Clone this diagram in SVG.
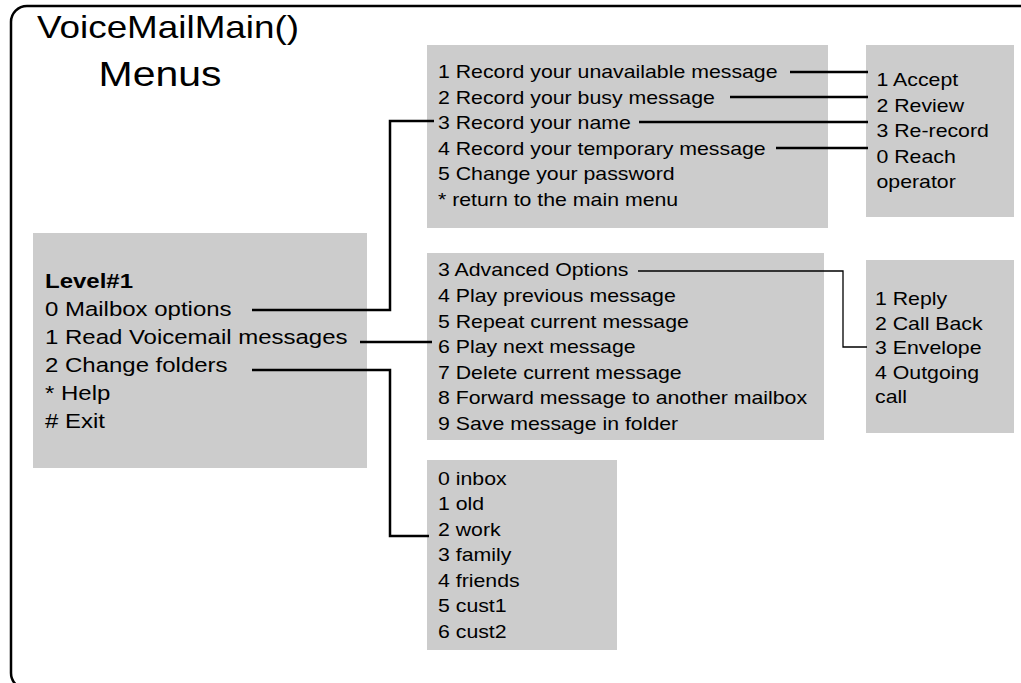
<svg xmlns="http://www.w3.org/2000/svg" width="1021" height="683" viewBox="0 0 1021 683">
<style>
text{font-family:"Liberation Sans",Arial,sans-serif;fill:#000}
.t{font-size:18.2px}
.l{font-size:20.5px}
.title{font-size:31.5px}
.box{fill:#cccccc}
.c{fill:none;stroke:#000;stroke-width:2.5}
.thin{fill:none;stroke:#000;stroke-width:1.3}
</style>
<rect x="11" y="6" width="1040" height="683" rx="16" ry="16" fill="none" stroke="#000" stroke-width="2.5"/>
<g id="title">
<g transform="translate(37,38) scale(1.17,1)"><text class="title" x="0" y="0">VoiceMailMain()</text></g>
<g transform="translate(160,86) scale(1.17,1)"><text class="title" x="0" y="0" text-anchor="middle" style="font-size:35px">Menus</text></g>
</g>
<g id="level1">
<rect class="box" x="33" y="233" width="334" height="235"/>
<g transform="translate(45,0) scale(1.17,1)">
<text class="l" x="0" y="288.5" font-weight="bold">Level#1</text>
<text class="l" x="0" y="316.5">0 Mailbox options</text>
<text class="l" x="0" y="344.5">1 Read Voicemail messages</text>
<text class="l" x="0" y="372.5">2 Change folders</text>
<text class="l" x="0" y="400.5">* Help</text>
<text class="l" x="0" y="428.5"># Exit</text>
</g>
</g>
<g id="mailbox-options">
<rect class="box" x="427" y="45" width="401" height="183"/>
<g transform="translate(438,0) scale(1.17,1)">
<text class="t" x="0" y="78">1 Record your unavailable message</text>
<text class="t" x="0" y="103.6">2 Record your busy message</text>
<text class="t" x="0" y="129.2">3 Record your name</text>
<text class="t" x="0" y="154.8">4 Record your temporary message</text>
<text class="t" x="0" y="180.4">5 Change your password</text>
<text class="t" x="0" y="206">* return to the main menu</text>
</g>
</g>
<g id="record-options">
<rect class="box" x="866" y="45" width="148" height="172"/>
<g transform="translate(876.5,0) scale(1.17,1)">
<text class="t" x="0" y="86.5">1 Accept</text>
<text class="t" x="0" y="112">2 Review</text>
<text class="t" x="0" y="137.5">3 Re-record</text>
<text class="t" x="0" y="163">0 Reach</text>
<text class="t" x="0" y="188.5">operator</text>
</g>
</g>
<g id="read-messages">
<rect class="box" x="427" y="253" width="397" height="187"/>
<g transform="translate(438,0) scale(1.17,1)">
<text class="t" x="0" y="276.5">3 Advanced Options</text>
<text class="t" x="0" y="302.1">4 Play previous message</text>
<text class="t" x="0" y="327.7">5 Repeat current message</text>
<text class="t" x="0" y="353.3">6 Play next message</text>
<text class="t" x="0" y="378.9">7 Delete current message</text>
<text class="t" x="0" y="404.5">8 Forward message to another mailbox</text>
<text class="t" x="0" y="430.1">9 Save message in folder</text>
</g>
</g>
<g id="advanced-options">
<rect class="box" x="866" y="260" width="148" height="173"/>
<g transform="translate(875,0) scale(1.17,1)">
<text class="t" x="0" y="305">1 Reply</text>
<text class="t" x="0" y="329.6">2 Call Back</text>
<text class="t" x="0" y="354.2">3 Envelope</text>
<text class="t" x="0" y="378.8">4 Outgoing</text>
<text class="t" x="0" y="403.4">call</text>
</g>
</g>
<g id="folders">
<rect class="box" x="427" y="460" width="190" height="190"/>
<g transform="translate(438,0) scale(1.17,1)">
<text class="t" x="0" y="485">0 inbox</text>
<text class="t" x="0" y="510.5">1 old</text>
<text class="t" x="0" y="536">2 work</text>
<text class="t" x="0" y="561.5">3 family</text>
<text class="t" x="0" y="587">4 friends</text>
<text class="t" x="0" y="612.5">5 cust1</text>
<text class="t" x="0" y="638">6 cust2</text>
</g>
</g>
<g id="connectors">
<polyline class="c" points="252,310 390,310 390,121 434,121"/>
<polyline class="c" points="360,342 432,342"/>
<polyline class="c" points="252,370 390,370 390,536 429,536"/>
<polyline class="c" points="790,72 868,72"/>
<polyline class="c" points="730,97 868,97"/>
<polyline class="c" points="639,122 868,122"/>
<polyline class="c" points="776,148 868,148"/>
<polyline class="thin" points="638,271 843,271 843,347 867,347"/>
</g>
</svg>
